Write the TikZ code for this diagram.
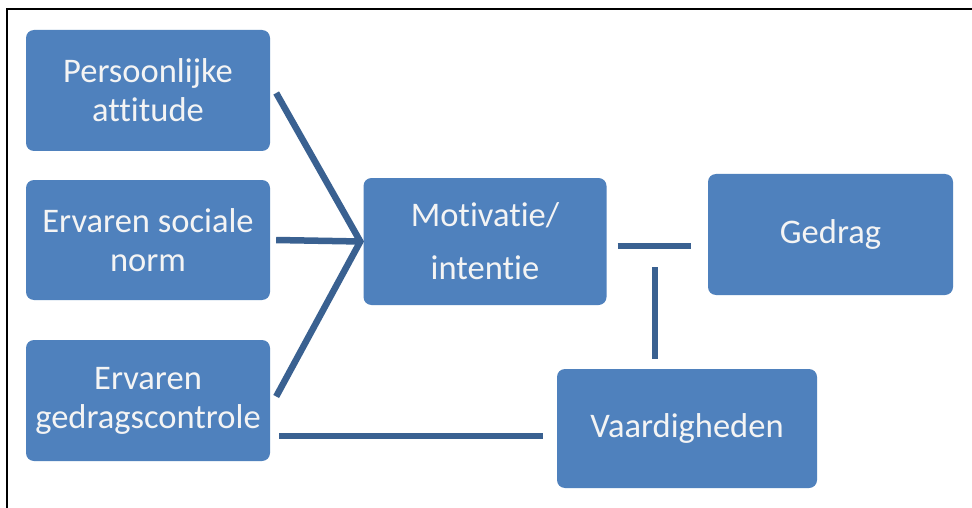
\documentclass[tikz,border=0pt]{standalone}
\usepackage{fontspec}
\setmainfont[Ligatures=NoCommon]{Carlito}
\usetikzlibrary{calc}
\definecolor{boxblue}{HTML}{4F81BD}
\definecolor{linkblue}{HTML}{3A6191}
\definecolor{boxtext}{HTML}{F4F4F4}
\begin{document}
\begin{tikzpicture}[x=1pt,y=-1pt,
  box/.style={draw=none,fill=boxblue,rounded corners=8pt,text=boxtext,align=center,
    font=\fontsize{34.5}{39}\selectfont,inner sep=0pt},
  link/.style={draw=linkblue,line width=6.5pt}]
\useasboundingbox (0,0) rectangle (972,508);
\fill[white] (0,0) rectangle (972,508);
\draw[line width=2.5pt] (7,508) -- (7,9) -- (972,9);
\node[box,minimum width=244pt,minimum height=121pt] (A) at (148,90.5) {Persoonlijke\\attitude};
\node[box,minimum width=244pt,minimum height=120pt] (B) at (148,240) {Ervaren sociale\\norm};
\node[box,minimum width=244pt,minimum height=121pt] (C) at (148,400.5) {Ervaren\\gedragscontrole};
\node[box,minimum width=243pt,minimum height=127pt,font=\fontsize{34.5}{53}\selectfont] (M) at (485,241.5) {Motivatie/\\intentie};
\node[box,minimum width=245pt,minimum height=121pt] (G) at (830.5,234.5) {\raisebox{-3pt}{Gedrag}};
\node[box,minimum width=260pt,minimum height=119pt] (V) at (687,428.5) {Vaardigheden};
\coordinate (apex) at ($(M.west)+(-3,0)$);
\coordinate (a1) at ($(A.east)+(6,2.5)$);
\coordinate (b1) at ($(B.east)+(6,0)$);
\coordinate (c1) at ($(C.east)+(6,-4)$);
\coordinate (m1) at ($(M.east)+(11,4.5)$);
\coordinate (g1) at ($(G.west)+(-17,11.5)$);
\coordinate (v1) at ($(V.north)+(-32,-10)$);
\coordinate (v2) at ($(V.north)+(-32,-102)$);
\coordinate (c2) at ($(C.east)+(9,35.5)$);
\coordinate (v3) at ($(V.west)+(-14,7.5)$);
\draw[link] (a1) -- (apex) -- (c1);
\draw[link] (b1) -- (apex);
\draw[link] (m1) -- (g1);
\draw[link] (v1) -- (v2);
\draw[link] (c2) -- (v3);
\end{tikzpicture}
\end{document}
